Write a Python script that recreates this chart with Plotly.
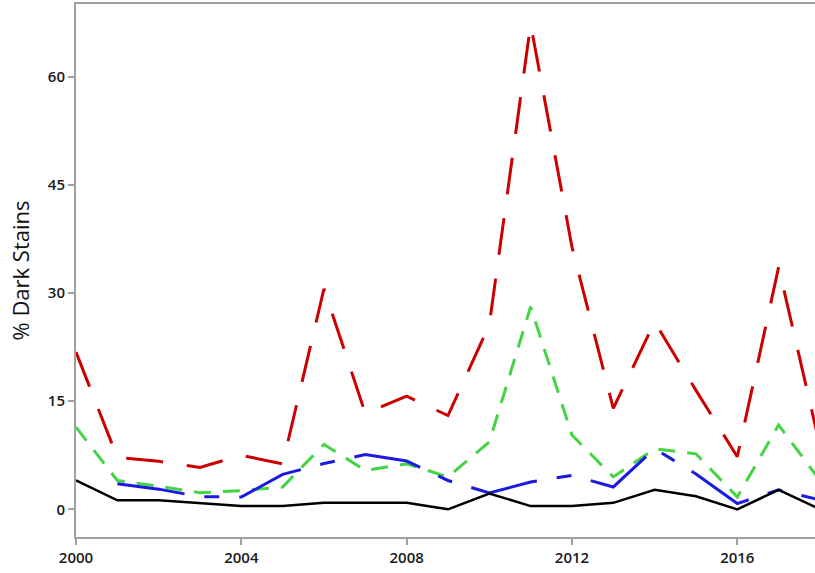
import plotly.graph_objects as go

# yearly values
years = list(range(2000, 2019))
black = [4.0, 1.25, 1.25, 0.9, 0.45, 0.45, 0.9, 0.9, 0.9, 0.0, 2.2, 0.45, 0.45, 0.9, 2.7, 1.8, 0.0, 2.7, 0.0]
blue = [None, 3.55, 2.8, 1.75, 1.7, 4.85, 6.35, 7.6, 6.7, 4.0, 2.27, 3.8, 4.7, 3.1, 8.4, 4.9, 0.8, 2.7, 1.3]
green = [11.4, 4.0, 3.2, 2.3, 2.6, 3.1, 9.0, 5.4, 6.3, 4.5, 9.35, 28.1, 10.3, 4.5, 8.4, 7.7, 1.7, 11.7, 4.0]
red = [21.8, 7.2, 6.66, 5.8, 7.5, 6.3, 30.6, 13.3, 15.7, 13.0, 25.6, 67.3, 36.4, 14.0, 26.0, 16.5, 7.3, 33.6, 8.8]

x_ticks = [2000, 2004, 2008, 2012, 2016]
y_ticks = [0, 15, 30, 45, 60]

series = [
    (red, "#cc0000", 3, "37px,24px"),
    (green, "#44d444", 3, "17px,12px"),
    (blue, "#1a1ae0", 3, "68px,20px,15px,20px"),
    (black, "#000000", 2.5, "solid"),
]

fig = go.Figure()
for vals, color, width, dash in series:
    fig.add_trace(go.Scatter(
        x=years, y=vals, mode="lines",
        line=dict(color=color, width=width, dash=dash),
        showlegend=False,
    ))

tick_font = dict(family="Open Sans", size=15, color="#1a1a1a", weight=600)
axis_gray = "#a0a0a0"

fig.update_layout(
    width=815, height=573,
    margin=dict(l=76, r=0, t=4, b=36),
    plot_bgcolor="white", paper_bgcolor="white",
    xaxis=dict(
        range=[2000, 2017.88], tickvals=x_ticks, ticktext=[str(t) for t in x_ticks],
        showgrid=False, zeroline=False,
        showline=True, linecolor=axis_gray, linewidth=2, mirror=True,
        ticks="outside", ticklen=6, tickwidth=2, tickcolor=axis_gray,
        tickfont=tick_font,
    ),
    yaxis=dict(
        range=[-3.84, 70.1], tickvals=y_ticks,
        showgrid=False, zeroline=False,
        showline=True, linecolor=axis_gray, linewidth=2,
        ticks="outside", ticklen=6, tickwidth=2, tickcolor=axis_gray,
        tickfont=tick_font,
        title=dict(text="% Dark Stains", font=dict(family="Open Sans", size=22, color="#111111"), standoff=12),
    ),
)

# the page body has a default 8px margin; drop it so the figure sits at the window origin
fig.write_html(
    "out.html",
    config={"displayModeBar": False},
    post_script="document.body.style.margin='0';",
)
